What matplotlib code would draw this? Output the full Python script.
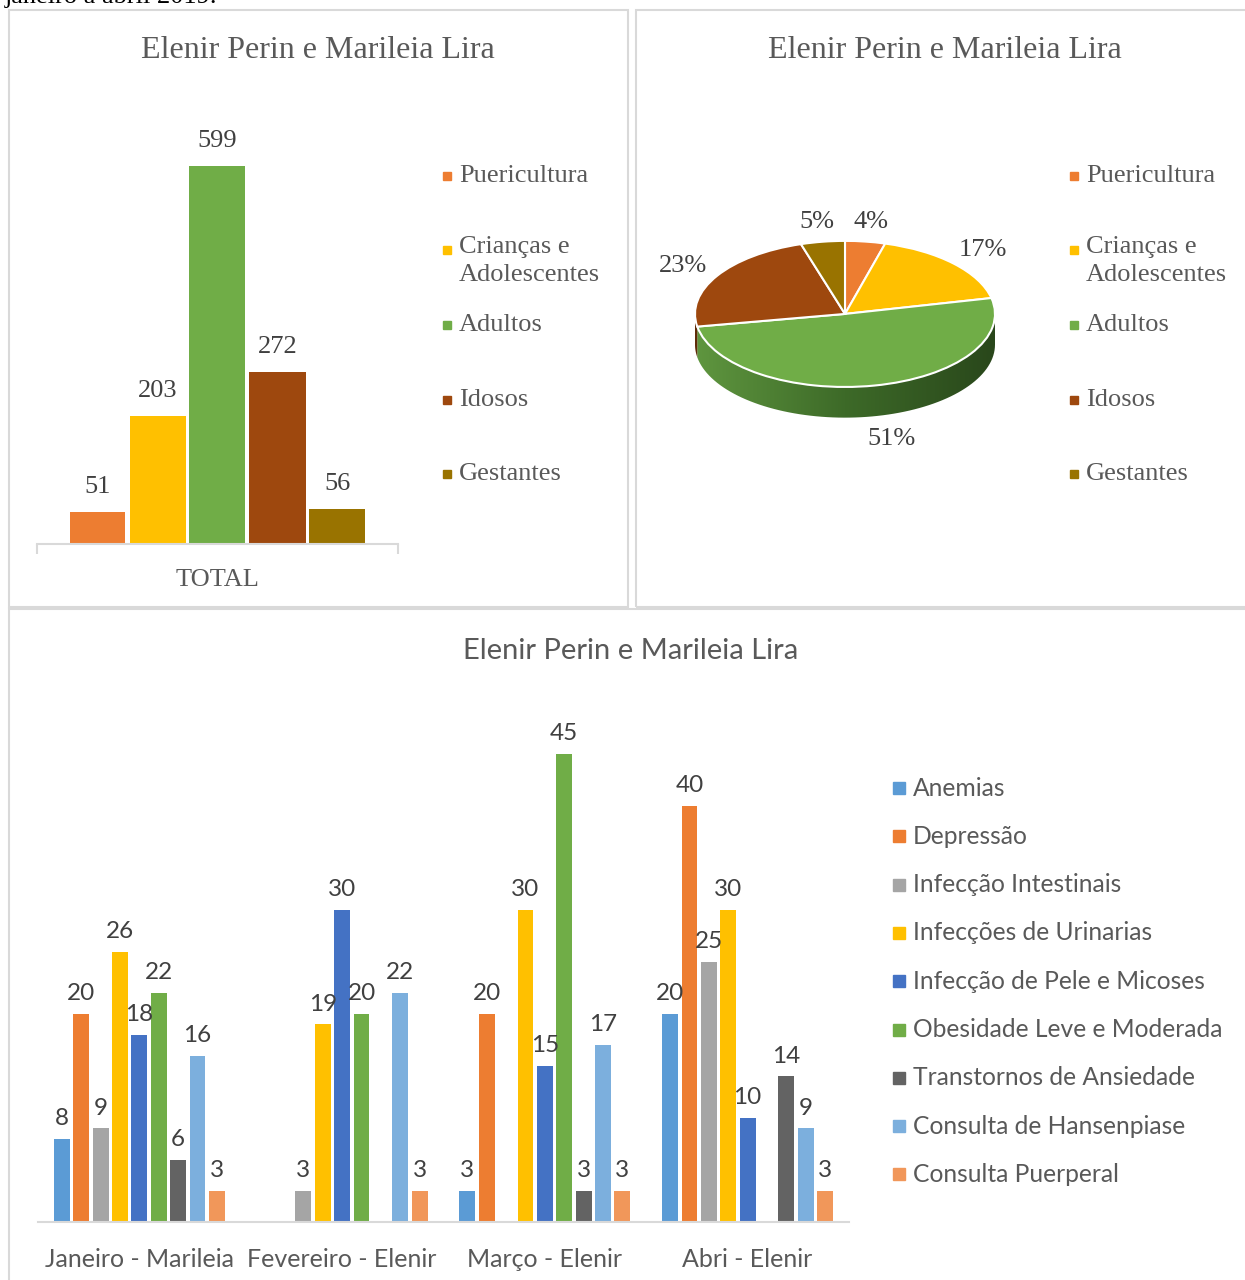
import matplotlib.pyplot as plt
import matplotlib.colors as mc
import numpy as np
from matplotlib.patches import Rectangle, Polygon
from matplotlib.colors import LinearSegmentedColormap

W, H = 1245, 1280
nan = np.nan

# top charts (total per group)
groups = ['Puericultura', 'Crianças e\nAdolescentes', 'Adultos', 'Idosos', 'Gestantes']
totals = [51, 203, 599, 272, 56]
group_colors = ['#ED7D31', '#FFC000', '#70AD47', '#9E480E', '#997300']

# bottom chart
months = ['Janeiro - Marileia', 'Fevereiro - Elenir', 'Março - Elenir', 'Abri - Elenir']
conditions = ['Anemias', 'Depressão', 'Infecção Intestinais', 'Infecções de Urinarias',
              'Infecção de Pele e Micoses', 'Obesidade Leve e Moderada',
              'Transtornos de Ansiedade', 'Consulta de Hansenpiase', 'Consulta Puerperal']
anemias = [8, nan, 3, 20]
depressao = [20, nan, 20, 40]
intestinais = [9, 3, nan, 25]
urinarias = [26, 19, 30, 30]
pele = [18, 30, 15, 10]
obesidade = [22, 20, 45, nan]
ansiedade = [6, nan, 3, 14]
hansen = [16, 22, 17, 9]
puerperal = [3, 3, 3, 3]
cond_colors = ['#5B9BD5', '#ED7D31', '#A5A5A5', '#FFC000', '#4472C4',
               '#70AD47', '#636363', '#7CAFDD', '#F1975A']

SERIF = 'Liberation Serif'
SANS = 'Lato'
TXT = '#595959'
LBL = '#404040'
GRID = '#d9d9d9'


def box(x0, y0, x1, y1):
    return [x0 / W, 1 - y1 / H, (x1 - x0) / W, (y1 - y0) / H]


fig = plt.figure(figsize=(W / 100, H / 100), dpi=100)

# caption of the page, cut by the crop
fig.text(5 / W, 1 - 3 / H, 'janeiro a abril 2019.', family=SERIF, fontsize=19,
         va='baseline', ha='left', color='black')

# panel frames
for x0, y0, x1, y1 in [(9, 10, 628, 607), (636, 10, 1252, 607), (9, 609, 1252, 1290)]:
    fig.add_artist(Rectangle((x0 / W, 1 - y1 / H), (x1 - x0) / W, (y1 - y0) / H,
                             transform=fig.transFigure, fill=False, ec=GRID, lw=1.5))

# titles
for cx in [318, 945]:
    fig.text(cx / W, 1 - 50 / H, 'Elenir Perin e Marileia Lira', family=SERIF, fontsize=23,
             color=TXT, ha='center', va='center')
fig.text(631 / W, 1 - 651 / H, 'Elenir Perin e Marileia Lira', family=SANS, fontsize=21,
         color=TXT, ha='center', va='center')

# ---- panel 1: bars
ax1 = fig.add_axes(box(37, 130, 398, 544))
n = len(totals)
step = 60 / 361
for i, (v, c) in enumerate(zip(totals, group_colors)):
    b = ax1.bar((i - (n - 1) / 2) * step, v, width=56 / 361, color=c)
    ax1.bar_label(b, padding=10, fontsize=19, family=SERIF, color=LBL)
ax1.set_xlim(-0.5, 0.5)
ax1.set_ylim(0, 656)
for s in ['top', 'right', 'left']:
    ax1.spines[s].set_visible(False)
ax1.spines['bottom'].set_color(GRID)
ax1.spines['bottom'].set_linewidth(1.5)
ax1.set_yticks([])
ax1.set_xticks([-0.5, 0.5], ['', ''])
ax1.tick_params(axis='x', which='major', length=7, color=GRID, width=1.5)
ax1.set_xticks([0], ['TOTAL'], minor=True)
ax1.tick_params(axis='x', which='minor', length=0, pad=18, labelsize=19, labelcolor=TXT)
for t in ax1.get_xticklabels(minor=True):
    t.set_family(SERIF)

# ---- legends for top panels
leg_y = [176, 250, 325, 400, 474]
for mx in [447, 1074]:
    for g, c, y in zip(groups, group_colors, leg_y):
        fig.add_artist(Rectangle(((mx - 4) / W, 1 - (y + 4) / H), 8 / W, 8 / H,
                                 transform=fig.transFigure, color=c))
        if '\n' in g:
            fig.text((mx + 12) / W, 1 - (y - 14) / H, g, family=SERIF, fontsize=19,
                     color=TXT, ha='left', va='top', linespacing=1.35)
        else:
            fig.text((mx + 12) / W, 1 - y / H, g, family=SERIF, fontsize=19,
                     color=TXT, ha='left', va='center')

# ---- panel 2: pie with a 3D look
ax2 = fig.add_axes(box(665, 200, 1025, 460))
wedges, _ = ax2.pie(totals, colors=group_colors, startangle=90, counterclock=False,
                    wedgeprops=dict(edgecolor='white', linewidth=1.5, zorder=3))
ax2.set_aspect('auto')
ax2.axis('off')
depth = 0.42
grad = np.linspace(0, 1, 256)[None, :]
side_cmap = LinearSegmentedColormap.from_list('side', ['#5f963f', '#3d6a28', '#29471b'])
for w, c in zip(wedges, group_colors):
    lo, hi = w.theta1, w.theta2
    for shift in (-360, 0, 360):
        a, b = max(lo + shift, 180), min(hi + shift, 360)
        if b <= a:
            continue
        t = np.radians(np.linspace(a, b, 80))
        xs = np.cos(t)
        ys = np.sin(t)
        pts = np.column_stack([np.r_[xs, xs[::-1]], np.r_[ys, ys[::-1] - depth]])
        poly = Polygon(pts, closed=True, fc='none', ec='none', zorder=1)
        ax2.add_patch(poly)
        if c == '#70AD47':
            im = ax2.imshow(grad, cmap=side_cmap, extent=(-1, 1, -1 - depth, 0),
                            aspect='auto', zorder=1)
            im.set_clip_path(poly)
        else:
            r, g_, bb = mc.to_rgb(c)
            poly.set_facecolor((r * 0.6, g_ * 0.6, bb * 0.6))
ax2.set_xlim(-1.2, 1.2)
ax2.set_ylim(-2.0, 1.56)
tot = sum(totals)
for w, v in zip(wedges, totals):
    mid = np.radians((w.theta1 + w.theta2) / 2)
    lx, ly = 1.27 * np.cos(mid), 1.27 * np.sin(mid)
    if ly < 0:
        lx, ly = 1.6 * np.cos(mid), ly - depth - 0.05
    ax2.text(lx, ly, f'{round(v / tot * 100)}%', family=SERIF, fontsize=19, color=LBL,
             ha='center', va='center')

# ---- panel 3: grouped bars
ax3 = fig.add_axes(box(38, 702, 849, 1222))
series = [anemias, depressao, intestinais, urinarias, pele, obesidade, ansiedade, hansen, puerperal]
x = np.arange(len(months))
k = len(series)
bstep = 19.4 / 203
for i, (vals, c) in enumerate(zip(series, cond_colors)):
    b = ax3.bar(x + (i - (k - 1) / 2) * bstep, vals, width=16 / 203, color=c, label=conditions[i])
    labs = ['' if np.isnan(v) else f'{v:g}' for v in vals]
    ax3.bar_label(b, labels=labs, padding=7, fontsize=17.5, family=SANS, color=LBL)
ax3.set_xlim(-0.5, len(months) - 0.5)
ax3.set_ylim(0, 50)
for s in ['top', 'right', 'left']:
    ax3.spines[s].set_visible(False)
ax3.spines['bottom'].set_color(GRID)
ax3.spines['bottom'].set_linewidth(1.5)
ax3.set_yticks([])
ax3.set_xticks(x, months)
ax3.tick_params(axis='x', length=0, pad=19, labelsize=18, labelcolor=TXT)
for t in ax3.get_xticklabels():
    t.set_family(SANS)

ly0 = 788
for i, (name, c) in enumerate(zip(conditions, cond_colors)):
    y = ly0 + i * 48.3
    fig.add_artist(Rectangle((893 / W, 1 - (y + 6) / H), 12 / W, 12 / H,
                             transform=fig.transFigure, color=c))
    fig.text(913 / W, 1 - y / H, name, family=SANS, fontsize=17.7, color=TXT,
             ha='left', va='center')

fig.savefig('out.png', dpi=100)
